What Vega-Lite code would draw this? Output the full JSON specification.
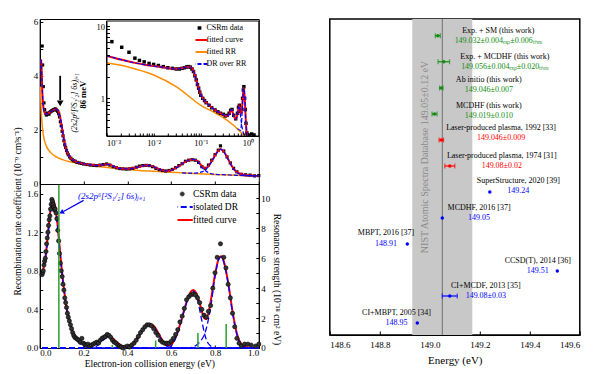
{
"$schema": "https://vega.github.io/schema/vega-lite/v6.json",
"padding": {"left": 11.8, "top": 17, "right": 0, "bottom": 0},
"bounds": "flush",
"spacing": 71,
"config": {
 "font": "Liberation Serif",
 "view": {"stroke": "black", "strokeWidth": 1},
 "axis": {"labelFont": "Liberation Serif", "titleFont": "Liberation Serif", "labelFontSize": 9, "titleFontSize": 9.5, "titleFontWeight": "normal", "labelColor": "black", "titleColor": "black", "domainColor": "black", "tickColor": "black", "grid": false, "tickSize": -3, "labelPadding": 5},
 "legend": {"labelFont": "Liberation Serif", "labelColor": "black"},
 "text": {"font": "Liberation Serif"}
},
"datasets": {
 "tpts": [{"x":0.011,"y":5.1},{"x":0.013,"y":4.4},{"x":0.016,"y":3.6},{"x":0.019,"y":3.0},{"x":0.022,"y":2.75},{"x":0.026,"y":2.62},{"x":0.03,"y":2.55},{"x":0.034,"y":2.6},{"x":0.038,"y":2.62},{"x":0.042,"y":2.58},{"x":0.046,"y":2.65},{"x":0.05,"y":2.68},{"x":0.054,"y":2.7},{"x":0.058,"y":2.72},{"x":0.062,"y":2.74},{"x":0.066,"y":2.75},{"x":0.07,"y":2.78},{"x":0.074,"y":2.76},{"x":0.078,"y":2.72},{"x":0.082,"y":2.68},{"x":0.086,"y":2.6},{"x":0.09,"y":2.48},{"x":0.094,"y":2.3},{"x":0.098,"y":2.15},{"x":0.102,"y":1.95},{"x":0.106,"y":1.78},{"x":0.11,"y":1.6},{"x":0.114,"y":1.45},{"x":0.118,"y":1.35},{"x":0.122,"y":1.24},{"x":0.126,"y":1.15},{"x":0.13,"y":1.08},{"x":0.136,"y":1.0},{"x":0.142,"y":0.95},{"x":0.148,"y":0.9},{"x":0.155,"y":0.86},{"x":0.162,"y":0.84},{"x":0.17,"y":0.8},{"x":0.18,"y":0.78},{"x":0.19,"y":0.76},{"x":0.2,"y":0.74},{"x":0.215,"y":0.72},{"x":0.23,"y":0.7},{"x":0.245,"y":0.69},{"x":0.26,"y":0.68},{"x":0.275,"y":0.7},{"x":0.29,"y":0.72},{"x":0.305,"y":0.74},{"x":0.32,"y":0.7},{"x":0.335,"y":0.64},{"x":0.35,"y":0.6},{"x":0.365,"y":0.57},{"x":0.38,"y":0.56},{"x":0.395,"y":0.55},{"x":0.41,"y":0.56},{"x":0.425,"y":0.58},{"x":0.44,"y":0.62},{"x":0.455,"y":0.66},{"x":0.47,"y":0.68},{"x":0.485,"y":0.69},{"x":0.5,"y":0.68},{"x":0.515,"y":0.64},{"x":0.53,"y":0.58},{"x":0.545,"y":0.53},{"x":0.56,"y":0.5},{"x":0.575,"y":0.48},{"x":0.59,"y":0.5},{"x":0.605,"y":0.54},{"x":0.62,"y":0.6},{"x":0.635,"y":0.68},{"x":0.65,"y":0.75},{"x":0.665,"y":0.84},{"x":0.68,"y":0.88},{"x":0.695,"y":0.9},{"x":0.71,"y":0.88},{"x":0.725,"y":0.8},{"x":0.74,"y":0.64},{"x":0.755,"y":0.58},{"x":0.77,"y":0.7},{"x":0.785,"y":0.88},{"x":0.8,"y":1.08},{"x":0.815,"y":1.25},{"x":0.825,"y":1.41},{"x":0.84,"y":1.22},{"x":0.855,"y":1.0},{"x":0.87,"y":0.78},{"x":0.885,"y":0.58},{"x":0.9,"y":0.45},{"x":0.92,"y":0.36},{"x":0.94,"y":0.34},{"x":0.96,"y":0.33},{"x":0.98,"y":0.3},{"x":1.0,"y":0.31}],
 "tfit": [{"x":0.006,"y":4.6},{"x":0.008,"y":4.3},{"x":0.01,"y":3.8},{"x":0.012,"y":3.35},{"x":0.015,"y":2.95},{"x":0.018,"y":2.75},{"x":0.022,"y":2.64},{"x":0.028,"y":2.58},{"x":0.035,"y":2.6},{"x":0.045,"y":2.64},{"x":0.055,"y":2.7},{"x":0.065,"y":2.75},{"x":0.075,"y":2.76},{"x":0.082,"y":2.73},{"x":0.088,"y":2.62},{"x":0.094,"y":2.42},{"x":0.1,"y":2.15},{"x":0.106,"y":1.85},{"x":0.112,"y":1.57},{"x":0.118,"y":1.36},{"x":0.124,"y":1.2},{"x":0.13,"y":1.09},{"x":0.14,"y":0.97},{"x":0.15,"y":0.9},{"x":0.165,"y":0.83},{"x":0.18,"y":0.78},{"x":0.2,"y":0.75},{"x":0.23,"y":0.71},{"x":0.26,"y":0.69},{"x":0.29,"y":0.71},{"x":0.31,"y":0.73},{"x":0.33,"y":0.68},{"x":0.35,"y":0.61},{"x":0.37,"y":0.57},{"x":0.4,"y":0.56},{"x":0.43,"y":0.59},{"x":0.46,"y":0.65},{"x":0.49,"y":0.69},{"x":0.51,"y":0.67},{"x":0.53,"y":0.6},{"x":0.56,"y":0.51},{"x":0.58,"y":0.48},{"x":0.6,"y":0.51},{"x":0.63,"y":0.63},{"x":0.66,"y":0.8},{"x":0.68,"y":0.88},{"x":0.7,"y":0.91},{"x":0.72,"y":0.86},{"x":0.74,"y":0.66},{"x":0.755,"y":0.58},{"x":0.77,"y":0.66},{"x":0.79,"y":0.92},{"x":0.81,"y":1.18},{"x":0.825,"y":1.29},{"x":0.84,"y":1.2},{"x":0.86,"y":0.92},{"x":0.88,"y":0.62},{"x":0.9,"y":0.44},{"x":0.92,"y":0.36},{"x":0.95,"y":0.32},{"x":1.0,"y":0.3}],
 "tdr": [{"c":"a","x":0.006,"y":4.6},{"c":"a","x":0.008,"y":4.3},{"c":"a","x":0.01,"y":3.8},{"c":"a","x":0.012,"y":3.35},{"c":"a","x":0.015,"y":2.95},{"c":"a","x":0.018,"y":2.75},{"c":"a","x":0.022,"y":2.64},{"c":"a","x":0.028,"y":2.58},{"c":"a","x":0.035,"y":2.6},{"c":"a","x":0.045,"y":2.64},{"c":"a","x":0.055,"y":2.7},{"c":"a","x":0.065,"y":2.75},{"c":"a","x":0.075,"y":2.76},{"c":"a","x":0.082,"y":2.73},{"c":"a","x":0.088,"y":2.62},{"c":"a","x":0.094,"y":2.42},{"c":"a","x":0.1,"y":2.15},{"c":"a","x":0.106,"y":1.85},{"c":"a","x":0.112,"y":1.57},{"c":"a","x":0.118,"y":1.36},{"c":"a","x":0.124,"y":1.2},{"c":"a","x":0.13,"y":1.09},{"c":"a","x":0.14,"y":0.97},{"c":"a","x":0.15,"y":0.9},{"c":"a","x":0.165,"y":0.83},{"c":"a","x":0.18,"y":0.78},{"c":"a","x":0.2,"y":0.75},{"c":"a","x":0.23,"y":0.71},{"c":"a","x":0.26,"y":0.69},{"c":"a","x":0.29,"y":0.71},{"c":"a","x":0.31,"y":0.73},{"c":"a","x":0.33,"y":0.68},{"c":"a","x":0.35,"y":0.61},{"c":"a","x":0.37,"y":0.57},{"c":"a","x":0.4,"y":0.56},{"c":"a","x":0.43,"y":0.59},{"c":"a","x":0.46,"y":0.65},{"c":"a","x":0.49,"y":0.69},{"c":"a","x":0.51,"y":0.67},{"c":"a","x":0.53,"y":0.6},{"c":"a","x":0.56,"y":0.51},{"c":"a","x":0.58,"y":0.48},{"c":"a","x":0.6,"y":0.51},{"c":"a","x":0.63,"y":0.63},{"c":"a","x":0.66,"y":0.8},{"c":"a","x":0.68,"y":0.88},{"c":"a","x":0.7,"y":0.91},{"c":"a","x":0.72,"y":0.84},{"c":"a","x":0.74,"y":0.62},{"c":"a","x":0.76,"y":0.47},{"c":"a","x":0.78,"y":0.39},{"c":"a","x":0.8,"y":0.36},{"c":"a","x":0.85,"y":0.34},{"c":"a","x":0.9,"y":0.32},{"c":"a","x":1.0,"y":0.29},
  {"c":"b","x":0.65,"y":0.41},{"c":"b","x":0.7,"y":0.4},{"c":"b","x":0.72,"y":0.41},{"c":"b","x":0.74,"y":0.45},{"c":"b","x":0.755,"y":0.52},{"c":"b","x":0.77,"y":0.64},{"c":"b","x":0.79,"y":0.9},{"c":"b","x":0.81,"y":1.17},{"c":"b","x":0.825,"y":1.28},{"c":"b","x":0.84,"y":1.19},{"c":"b","x":0.86,"y":0.91},{"c":"b","x":0.88,"y":0.61},{"c":"b","x":0.9,"y":0.43},{"c":"b","x":0.92,"y":0.35},{"c":"b","x":0.95,"y":0.32},{"c":"b","x":1.0,"y":0.3}],
 "trr": [{"x":0.003,"y":3.6},{"x":0.005,"y":3.05},{"x":0.008,"y":2.5},{"x":0.012,"y":2.08},{"x":0.02,"y":1.65},{"x":0.03,"y":1.4},{"x":0.05,"y":1.16},{"x":0.075,"y":1.0},{"x":0.1,"y":0.91},{"x":0.15,"y":0.8},{"x":0.2,"y":0.72},{"x":0.3,"y":0.62},{"x":0.4,"y":0.54},{"x":0.5,"y":0.48},{"x":0.6,"y":0.43},{"x":0.7,"y":0.39},{"x":0.8,"y":0.35},{"x":0.9,"y":0.32},{"x":1.0,"y":0.29}],
 "ipts": [{"x":0.0013,"y":6.1},{"x":0.0021,"y":5.1},{"x":0.003,"y":4.35},{"x":0.004,"y":3.6},{"x":0.005,"y":3.35},{"x":0.0063,"y":3.2},{"x":0.008,"y":3.05},{"x":0.01,"y":2.95},{"x":0.0126,"y":2.85},{"x":0.016,"y":2.75},{"x":0.02,"y":2.65},{"x":0.025,"y":2.6},{"x":0.03,"y":2.55},{"x":0.035,"y":2.55},{"x":0.04,"y":2.6},{"x":0.045,"y":2.65},{"x":0.05,"y":2.72},{"x":0.055,"y":2.75},{"x":0.06,"y":2.7},{"x":0.065,"y":2.55},{"x":0.07,"y":2.35},{"x":0.075,"y":2.05},{"x":0.08,"y":1.8},{"x":0.085,"y":1.55},{"x":0.09,"y":1.38},{"x":0.095,"y":1.22},{"x":0.1,"y":1.1},{"x":0.11,"y":1.0},{"x":0.12,"y":0.93},{"x":0.13,"y":0.87},{"x":0.15,"y":0.8},{"x":0.17,"y":0.74},{"x":0.2,"y":0.69},{"x":0.23,"y":0.65},{"x":0.26,"y":0.62},{"x":0.3,"y":0.6},{"x":0.33,"y":0.57},{"x":0.36,"y":0.58},{"x":0.4,"y":0.62},{"x":0.43,"y":0.68},{"x":0.46,"y":0.7},{"x":0.5,"y":0.58},{"x":0.55,"y":0.52},{"x":0.6,"y":0.62},{"x":0.63,"y":0.75},{"x":0.66,"y":0.8},{"x":0.7,"y":0.66},{"x":0.74,"y":0.7},{"x":0.77,"y":1.0},{"x":0.8,"y":1.3},{"x":0.82,"y":1.45},{"x":0.85,"y":1.0},{"x":0.88,"y":0.7},{"x":0.91,"y":0.45},{"x":0.95,"y":0.33},{"x":1.05,"y":0.31},{"x":1.2,"y":0.32},{"x":1.35,"y":0.31}],
 "ifit": [{"x":0.001,"y":3.9},{"x":0.002,"y":3.45},{"x":0.004,"y":3.1},{"x":0.007,"y":2.9},{"x":0.01,"y":2.8},{"x":0.015,"y":2.7},{"x":0.02,"y":2.62},{"x":0.03,"y":2.56},{"x":0.04,"y":2.62},{"x":0.05,"y":2.72},{"x":0.058,"y":2.74},{"x":0.065,"y":2.6},{"x":0.07,"y":2.4},{"x":0.075,"y":2.1},{"x":0.08,"y":1.8},{"x":0.09,"y":1.38},{"x":0.1,"y":1.12},{"x":0.12,"y":0.93},{"x":0.15,"y":0.8},{"x":0.2,"y":0.69},{"x":0.25,"y":0.63},{"x":0.3,"y":0.59},{"x":0.35,"y":0.57},{"x":0.4,"y":0.6},{"x":0.45,"y":0.7},{"x":0.5,"y":0.57},{"x":0.55,"y":0.51},{"x":0.6,"y":0.6},{"x":0.65,"y":0.8},{"x":0.7,"y":0.63},{"x":0.73,"y":0.62},{"x":0.78,"y":1.05},{"x":0.82,"y":1.4},{"x":0.86,"y":0.95},{"x":0.9,"y":0.5},{"x":0.93,"y":0.36},{"x":0.96,"y":0.3}],
 "irr": [{"x":0.001,"y":3.1},{"x":0.003,"y":2.7},{"x":0.01,"y":2.1},{"x":0.03,"y":1.45},{"x":0.1,"y":0.8},{"x":0.2,"y":0.63},{"x":0.3,"y":0.54},{"x":0.5,"y":0.42},{"x":0.7,"y":0.34},{"x":0.85,"y":0.3}],
 "idr": [{"c":"a","x":0.001,"y":3.9},{"c":"a","x":0.002,"y":3.45},{"c":"a","x":0.004,"y":3.1},{"c":"a","x":0.007,"y":2.9},{"c":"a","x":0.01,"y":2.8},{"c":"a","x":0.015,"y":2.7},{"c":"a","x":0.02,"y":2.62},{"c":"a","x":0.03,"y":2.56},{"c":"a","x":0.04,"y":2.62},{"c":"a","x":0.05,"y":2.72},{"c":"a","x":0.058,"y":2.74},{"c":"a","x":0.065,"y":2.6},{"c":"a","x":0.07,"y":2.4},{"c":"a","x":0.075,"y":2.1},{"c":"a","x":0.08,"y":1.8},{"c":"a","x":0.09,"y":1.38},{"c":"a","x":0.1,"y":1.12},{"c":"a","x":0.12,"y":0.93},{"c":"a","x":0.15,"y":0.8},{"c":"a","x":0.2,"y":0.69},{"c":"a","x":0.25,"y":0.63},{"c":"a","x":0.3,"y":0.59},{"c":"a","x":0.35,"y":0.57},{"c":"a","x":0.4,"y":0.6},{"c":"a","x":0.45,"y":0.7},{"c":"a","x":0.5,"y":0.57},{"c":"a","x":0.55,"y":0.51},{"c":"a","x":0.6,"y":0.6},{"c":"a","x":0.65,"y":0.8},{"c":"a","x":0.7,"y":0.55},{"c":"a","x":0.75,"y":0.4},{"c":"a","x":0.8,"y":0.33},{"c":"a","x":0.85,"y":0.3},
  {"c":"b","x":0.6,"y":0.38},{"c":"b","x":0.7,"y":0.36},{"c":"b","x":0.73,"y":0.45},{"c":"b","x":0.78,"y":1.0},{"c":"b","x":0.82,"y":1.38},{"c":"b","x":0.86,"y":0.93},{"c":"b","x":0.9,"y":0.48},{"c":"b","x":0.93,"y":0.34},{"c":"b","x":0.96,"y":0.3}],
 "bpts": [{"x":0.01,"y":0.76},{"x":0.013,"y":0.78},{"x":0.016,"y":0.8},{"x":0.019,"y":0.86},{"x":0.022,"y":0.9},{"x":0.025,"y":0.93},{"x":0.028,"y":1.0},{"x":0.031,"y":1.08},{"x":0.034,"y":1.14},{"x":0.037,"y":1.2},{"x":0.04,"y":1.27},{"x":0.043,"y":1.33},{"x":0.046,"y":1.37},{"x":0.049,"y":1.44},{"x":0.052,"y":1.49},{"x":0.055,"y":1.54},{"x":0.058,"y":1.52},{"x":0.061,"y":1.49},{"x":0.064,"y":1.46},{"x":0.067,"y":1.43},{"x":0.07,"y":1.44},{"x":0.074,"y":1.4},{"x":0.078,"y":1.34},{"x":0.082,"y":1.22},{"x":0.086,"y":1.11},{"x":0.09,"y":0.98},{"x":0.094,"y":0.88},{"x":0.098,"y":0.8},{"x":0.102,"y":0.74},{"x":0.106,"y":0.66},{"x":0.11,"y":0.6},{"x":0.114,"y":0.52},{"x":0.118,"y":0.47},{"x":0.122,"y":0.42},{"x":0.126,"y":0.36},{"x":0.13,"y":0.32},{"x":0.135,"y":0.28},{"x":0.14,"y":0.24},{"x":0.145,"y":0.2},{"x":0.15,"y":0.16},{"x":0.155,"y":0.13},{"x":0.16,"y":0.11},{"x":0.166,"y":0.1},{"x":0.172,"y":0.09},{"x":0.178,"y":0.08},{"x":0.185,"y":0.06},{"x":0.192,"y":0.1},{"x":0.198,"y":0.05},{"x":0.205,"y":0.04},{"x":0.212,"y":0.03},{"x":0.22,"y":0.04},{"x":0.228,"y":0.02},{"x":0.236,"y":0.03},{"x":0.244,"y":0.04},{"x":0.252,"y":0.05},{"x":0.26,"y":0.06},{"x":0.268,"y":0.05},{"x":0.276,"y":0.08},{"x":0.284,"y":0.1},{"x":0.292,"y":0.11},{"x":0.3,"y":0.12},{"x":0.308,"y":0.14},{"x":0.316,"y":0.13},{"x":0.324,"y":0.11},{"x":0.332,"y":0.08},{"x":0.34,"y":0.06},{"x":0.348,"y":0.05},{"x":0.356,"y":0.03},{"x":0.364,"y":0.02},{"x":0.372,"y":0.01},{"x":0.38,"y":0.0},{"x":0.39,"y":0.01},{"x":0.4,"y":0.02},{"x":0.41,"y":0.01},{"x":0.42,"y":0.03},{"x":0.43,"y":0.05},{"x":0.44,"y":0.08},{"x":0.45,"y":0.12},{"x":0.46,"y":0.16},{"x":0.47,"y":0.19},{"x":0.48,"y":0.22},{"x":0.49,"y":0.24},{"x":0.5,"y":0.24},{"x":0.51,"y":0.23},{"x":0.52,"y":0.2},{"x":0.53,"y":0.16},{"x":0.54,"y":0.13},{"x":0.55,"y":0.08},{"x":0.56,"y":0.06},{"x":0.57,"y":0.05},{"x":0.58,"y":0.05},{"x":0.59,"y":0.05},{"x":0.6,"y":0.07},{"x":0.61,"y":0.1},{"x":0.62,"y":0.14},{"x":0.63,"y":0.19},{"x":0.64,"y":0.27},{"x":0.65,"y":0.33},{"x":0.66,"y":0.41},{"x":0.67,"y":0.5},{"x":0.68,"y":0.53},{"x":0.69,"y":0.55},{"x":0.7,"y":0.56},{"x":0.71,"y":0.55},{"x":0.72,"y":0.52},{"x":0.73,"y":0.47},{"x":0.74,"y":0.4},{"x":0.75,"y":0.34},{"x":0.76,"y":0.32},{"x":0.77,"y":0.38},{"x":0.78,"y":0.44},{"x":0.79,"y":0.62},{"x":0.8,"y":0.78},{"x":0.81,"y":0.94},{"x":0.825,"y":1.08},{"x":0.84,"y":0.94},{"x":0.85,"y":0.83},{"x":0.86,"y":0.66},{"x":0.87,"y":0.52},{"x":0.88,"y":0.36},{"x":0.89,"y":0.22},{"x":0.9,"y":0.1},{"x":0.91,"y":0.05},{"x":0.92,"y":0.02},{"x":0.935,"y":0.04},{"x":0.95,"y":0.04},{"x":0.965,"y":0.03},{"x":0.985,"y":0.02},{"x":1.0,"y":0.04}],
 "bfit": [{"x":0.01,"y":0.78},{"x":0.02,"y":0.86},{"x":0.03,"y":1.02},{"x":0.04,"y":1.25},{"x":0.05,"y":1.45},{"x":0.06,"y":1.53},{"x":0.07,"y":1.47},{"x":0.08,"y":1.3},{"x":0.09,"y":1.06},{"x":0.1,"y":0.82},{"x":0.11,"y":0.62},{"x":0.12,"y":0.45},{"x":0.13,"y":0.33},{"x":0.14,"y":0.24},{"x":0.15,"y":0.17},{"x":0.16,"y":0.12},{"x":0.17,"y":0.09},{"x":0.18,"y":0.065},{"x":0.2,"y":0.04},{"x":0.22,"y":0.03},{"x":0.24,"y":0.035},{"x":0.26,"y":0.05},{"x":0.28,"y":0.08},{"x":0.3,"y":0.115},{"x":0.31,"y":0.125},{"x":0.32,"y":0.12},{"x":0.34,"y":0.085},{"x":0.36,"y":0.045},{"x":0.38,"y":0.02},{"x":0.4,"y":0.02},{"x":0.42,"y":0.04},{"x":0.44,"y":0.09},{"x":0.46,"y":0.16},{"x":0.48,"y":0.22},{"x":0.5,"y":0.25},{"x":0.52,"y":0.23},{"x":0.54,"y":0.16},{"x":0.56,"y":0.08},{"x":0.58,"y":0.025},{"x":0.6,"y":0.035},{"x":0.62,"y":0.11},{"x":0.64,"y":0.24},{"x":0.66,"y":0.4},{"x":0.68,"y":0.54},{"x":0.7,"y":0.6},{"x":0.72,"y":0.54},{"x":0.74,"y":0.38},{"x":0.75,"y":0.31},{"x":0.76,"y":0.3},{"x":0.77,"y":0.36},{"x":0.78,"y":0.48},{"x":0.8,"y":0.76},{"x":0.82,"y":0.94},{"x":0.83,"y":0.95},{"x":0.84,"y":0.9},{"x":0.86,"y":0.68},{"x":0.88,"y":0.38},{"x":0.9,"y":0.15},{"x":0.92,"y":0.04},{"x":0.94,"y":0.01},{"x":0.97,"y":0.0},{"x":1.0,"y":0.0}],
 "bdr": [{"c":"1","x":0.01,"y":0.76},{"c":"1","x":0.02,"y":0.85},{"c":"1","x":0.03,"y":1.0},{"c":"1","x":0.04,"y":1.23},{"c":"1","x":0.05,"y":1.44},{"c":"1","x":0.06,"y":1.52},{"c":"1","x":0.07,"y":1.46},{"c":"1","x":0.08,"y":1.29},{"c":"1","x":0.09,"y":1.05},{"c":"1","x":0.1,"y":0.81},{"c":"1","x":0.11,"y":0.61},{"c":"1","x":0.12,"y":0.44},{"c":"1","x":0.13,"y":0.32},{"c":"1","x":0.14,"y":0.23},{"c":"1","x":0.15,"y":0.16},{"c":"1","x":0.16,"y":0.11},{"c":"1","x":0.17,"y":0.08},{"c":"1","x":0.18,"y":0.05},{"c":"1","x":0.2,"y":0.02},{"c":"1","x":0.22,"y":0.005},{"c":"1","x":0.25,"y":0},{"c":"1","x":1.0,"y":0},
  {"c":"2","x":0.01,"y":0},{"c":"2","x":0.24,"y":0},{"c":"2","x":0.26,"y":0.02},{"c":"2","x":0.28,"y":0.06},{"c":"2","x":0.3,"y":0.1},{"c":"2","x":0.31,"y":0.11},{"c":"2","x":0.32,"y":0.105},{"c":"2","x":0.34,"y":0.07},{"c":"2","x":0.36,"y":0.03},{"c":"2","x":0.38,"y":0.005},{"c":"2","x":0.4,"y":0},{"c":"2","x":1.0,"y":0},
  {"c":"3","x":0.01,"y":0},{"c":"3","x":0.4,"y":0},{"c":"3","x":0.42,"y":0.02},{"c":"3","x":0.44,"y":0.07},{"c":"3","x":0.46,"y":0.14},{"c":"3","x":0.48,"y":0.21},{"c":"3","x":0.5,"y":0.245},{"c":"3","x":0.52,"y":0.22},{"c":"3","x":0.54,"y":0.15},{"c":"3","x":0.56,"y":0.07},{"c":"3","x":0.58,"y":0.02},{"c":"3","x":0.6,"y":0},{"c":"3","x":1.0,"y":0},
  {"c":"4","x":0.01,"y":0},{"c":"4","x":0.58,"y":0},{"c":"4","x":0.6,"y":0.02},{"c":"4","x":0.62,"y":0.1},{"c":"4","x":0.64,"y":0.23},{"c":"4","x":0.66,"y":0.39},{"c":"4","x":0.68,"y":0.53},{"c":"4","x":0.7,"y":0.59},{"c":"4","x":0.72,"y":0.5},{"c":"4","x":0.74,"y":0.28},{"c":"4","x":0.75,"y":0.17},{"c":"4","x":0.76,"y":0.09},{"c":"4","x":0.78,"y":0.02},{"c":"4","x":0.8,"y":0},{"c":"4","x":1.0,"y":0},
  {"c":"5","x":0.01,"y":0},{"c":"5","x":0.68,"y":0},{"c":"5","x":0.7,"y":0.01},{"c":"5","x":0.72,"y":0.04},{"c":"5","x":0.74,"y":0.09},{"c":"5","x":0.75,"y":0.13},{"c":"5","x":0.76,"y":0.2},{"c":"5","x":0.78,"y":0.42},{"c":"5","x":0.8,"y":0.74},{"c":"5","x":0.82,"y":0.93},{"c":"5","x":0.83,"y":0.945},{"c":"5","x":0.84,"y":0.89},{"c":"5","x":0.86,"y":0.67},{"c":"5","x":0.88,"y":0.37},{"c":"5","x":0.9,"y":0.14},{"c":"5","x":0.92,"y":0.03},{"c":"5","x":0.94,"y":0.005},{"c":"5","x":0.96,"y":0},{"c":"5","x":1.0,"y":0}],
 "bres": [{"x":0.087,"v":10.9},{"x":0.331,"v":0.2},{"x":0.529,"v":0.5},{"x":0.722,"v":1.0},{"x":0.851,"v":1.6}],
 "forest": [
  {"v":149.032,"lo":149.022,"hi":149.042,"r":0.49,"ly":0.31,"vy":0.69,"lx":149.274,"lab":"Exp. + SM (this work)","val":"149.032±0.004ₑₓₚ±0.006ₜₕₑₒ","g":"g"},
  {"v":149.056,"lo":149.033,"hi":149.079,"r":1.49,"ly":1.3,"vy":1.69,"lx":149.3,"lab":"Exp. + MCDHF (this work)","val":"149.056±0.004ₑₓₚ±0.020ₜₕₑₒ","g":"g"},
  {"v":149.046,"lo":149.039,"hi":149.053,"r":2.5,"ly":2.19,"vy":2.58,"lx":149.236,"lab":"Ab initio (this work)","val":"149.046±0.007","g":"g"},
  {"v":149.019,"lo":149.009,"hi":149.029,"r":3.5,"ly":3.19,"vy":3.58,"lx":149.236,"lab":"MCDHF (this work)","val":"149.019±0.010","g":"g"},
  {"v":149.046,"lo":149.037,"hi":149.055,"r":4.5,"ly":4.04,"vy":4.42,"lx":149.285,"lab":"Laser-produced plasma, 1992 [33]","val":"149.046±0.009","g":"r"},
  {"v":149.08,"lo":149.06,"hi":149.1,"r":5.5,"ly":5.12,"vy":5.5,"lx":149.288,"lab":"Laser-produced plasma, 1974 [31]","val":"149.08±0.02","g":"r"},
  {"v":149.24,"lo":null,"hi":null,"r":6.5,"ly":6.08,"vy":6.46,"lx":149.354,"lab":"SuperStructure, 2020 [39]","val":"149.24","g":"b"},
  {"v":149.05,"lo":null,"hi":null,"r":7.5,"ly":7.12,"vy":7.5,"lx":149.197,"lab":"MCDHF, 2016 [37]","val":"149.05","g":"b"},
  {"v":148.91,"lo":null,"hi":null,"r":8.5,"ly":8.08,"vy":8.5,"lx":148.825,"lab":"MBPT, 2016 [37]","val":"148.91","g":"b"},
  {"v":149.51,"lo":null,"hi":null,"r":9.54,"ly":9.15,"vy":9.54,"lx":149.432,"lab":"CCSD(T), 2014 [36]","val":"149.51","g":"b"},
  {"v":149.08,"lo":149.05,"hi":149.11,"r":10.5,"ly":10.12,"vy":10.5,"lx":149.224,"lab":"CI+MCDF, 2013 [35]","val":"149.08±0.03","g":"b"},
  {"v":148.95,"lo":null,"hi":null,"r":11.54,"ly":11.15,"vy":11.54,"lx":148.867,"lab":"CI+MBPT, 2005 [34]","val":"148.95","g":"b"}
 ]
},
"hconcat": [
 {
  "width": 219, "height": 329,
  "layer": [
   {
    "layer": [
     {"layer": [
      {"data": {"name": "trr"}, "mark": {"type": "line", "strokeWidth": 1.5, "interpolate": "monotone"},
       "encoding": {
        "x": {"field": "x", "type": "quantitative", "scale": {"domain": [0, 1], "nice": false, "zero": false}, "axis": {"title": null, "labels": false, "orient": "bottom", "offset": -164, "values": [0,0.1,0.2,0.3,0.4,0.5,0.6,0.7,0.8,0.9,1]}},
        "y": {"field": "y", "type": "quantitative", "scale": {"domain": [0, 6.1], "range": [165, 0], "nice": false}, "axis": {"title": null, "orient": "left", "values": [0,1,2,3,4,5,6], "labelExpr": "datum.value % 2 == 0 ? format(datum.value, 'd') : ''"}},
        "color": {"datum": "fitted RR", "type": "nominal",
         "scale": {"domain": ["CSRm data", "fitted curve", "fitted RR", "DR over RR"], "range": ["black", "#ff0000", "#ff8c00", "#0000ff"]},
         "legend": {"title": null, "orient": "none", "legendX": 155.7, "legendY": 4.25, "clipHeight": 9.5, "symbolSize": 256, "labelFontSize": 8, "labelOffset": 3, "padding": 0,
          "encode": {"symbols": {"update": {
           "shape": {"signal": "datum.value == 'CSRm data' ? 'square' : 'stroke'"},
           "size": {"signal": "datum.value == 'CSRm data' ? 14 : 256"},
           "fill": {"signal": "datum.value == 'CSRm data' ? 'black' : 'transparent'"},
           "stroke": {"signal": "datum.value == 'fitted curve' ? '#ff0000' : datum.value == 'fitted RR' ? '#ff8c00' : datum.value == 'DR over RR' ? '#0000ff' : 'black'"},
           "strokeWidth": {"signal": "datum.value == 'CSRm data' ? 0 : 2"},
           "strokeDash": {"signal": "datum.value == 'DR over RR' ? [4, 2] : [1, 0]"},
           "opacity": {"value": 1}}}}}}
       }},
      {"data": {"name": "tpts"}, "mark": {"type": "point", "shape": "square", "filled": true, "size": 10, "opacity": 1},
       "encoding": {"x": {"field": "x", "type": "quantitative"}, "y": {"field": "y", "type": "quantitative"}, "color": {"datum": "CSRm data", "type": "nominal"}}},
      {"data": {"name": "tfit"}, "mark": {"type": "line", "strokeWidth": 2, "interpolate": "monotone"},
       "encoding": {"x": {"field": "x", "type": "quantitative"}, "y": {"field": "y", "type": "quantitative"}, "color": {"datum": "fitted curve", "type": "nominal"}}},
      {"data": {"name": "tdr"}, "mark": {"type": "line", "strokeWidth": 1.2, "strokeDash": [4, 2], "interpolate": "monotone"},
       "encoding": {"x": {"field": "x", "type": "quantitative"}, "y": {"field": "y", "type": "quantitative"}, "detail": {"field": "c"}, "color": {"datum": "DR over RR", "type": "nominal"}}},
      {"data": {"values": [{}]}, "mark": {"type": "rule", "color": "black", "strokeWidth": 1.8},
       "encoding": {"x": {"datum": 0.093, "type": "quantitative"}, "y": {"datum": 4.0, "type": "quantitative"}, "y2": {"datum": 3.1}}},
      {"data": {"values": [{}]}, "mark": {"type": "point", "shape": "triangle-down", "filled": true, "color": "black", "size": 45, "opacity": 1},
       "encoding": {"x": {"datum": 0.093, "type": "quantitative"}, "y": {"datum": 2.98, "type": "quantitative"}}},
      {"data": {"values": [{}]}, "mark": {"type": "text", "angle": 270, "fontSize": 8, "fontStyle": "italic", "color": "black", "align": "center", "baseline": "middle"},
       "encoding": {"x": {"datum": 0.161, "type": "quantitative"}, "y": {"datum": 3.0, "type": "quantitative"}, "text": {"value": "(2s2p⁶[²S₁/₂] 6s)ⱼ₌₁"}}},
      {"data": {"values": [{}]}, "mark": {"type": "text", "angle": 270, "fontSize": 8.5, "fontWeight": "bold", "color": "black", "align": "center", "baseline": "middle"},
       "encoding": {"x": {"datum": 0.198, "type": "quantitative"}, "y": {"datum": 3.3, "type": "quantitative"}, "text": {"value": "86 meV"}}}
     ]},
     {"layer": [
      {"data": {"values": [{}]}, "mark": {"type": "rect", "fill": "white", "stroke": "black", "strokeWidth": 1},
       "encoding": {
        "x": {"datum": 0.001, "type": "quantitative", "scale": {"type": "log", "domain": [0.001, 1.7], "range": [66.7, 219], "nice": false}, "axis": {"orient": "bottom", "offset": -212, "title": null, "zindex": 1, "labelFontSize": 8.5, "values": [0.001,0.002,0.003,0.004,0.005,0.006,0.007,0.008,0.009,0.01,0.02,0.03,0.04,0.05,0.06,0.07,0.08,0.09,0.1,0.2,0.3,0.4,0.5,0.6,0.7,0.8,0.9,1], "labelExpr": "datum.value == 0.001 ? '10⁻³' : datum.value == 0.01 ? '10⁻²' : datum.value == 0.1 ? '10⁻¹' : datum.value == 1 ? '10⁰' : ''"}},
        "x2": {"datum": 1.7},
        "y": {"datum": 0.3, "type": "quantitative", "scale": {"type": "log", "domain": [0.3, 11.8], "range": [117, 2], "nice": false}, "axis": {"orient": "left", "offset": -66.7, "title": null, "zindex": 1, "labelFontSize": 8.5, "values": [0.3,0.4,0.5,0.6,0.7,0.8,0.9,1,2,3,4,5,6,7,8,9,10], "labelExpr": "datum.value == 1 ? '1' : datum.value == 10 ? '10' : ''"}},
        "y2": {"datum": 11.8}
       }},
      {"data": {"name": "irr"}, "mark": {"type": "line", "strokeWidth": 1.5, "interpolate": "monotone"},
       "encoding": {"x": {"field": "x", "type": "quantitative"}, "y": {"field": "y", "type": "quantitative"}, "color": {"datum": "fitted RR", "type": "nominal"}}},
      {"data": {"name": "ipts"}, "mark": {"type": "point", "shape": "square", "filled": true, "size": 12, "opacity": 1},
       "encoding": {"x": {"field": "x", "type": "quantitative"}, "y": {"field": "y", "type": "quantitative"}, "color": {"datum": "CSRm data", "type": "nominal"}}},
      {"data": {"name": "ifit"}, "mark": {"type": "line", "strokeWidth": 2, "interpolate": "monotone"},
       "encoding": {"x": {"field": "x", "type": "quantitative"}, "y": {"field": "y", "type": "quantitative"}, "color": {"datum": "fitted curve", "type": "nominal"}}},
      {"data": {"name": "idr"}, "mark": {"type": "line", "strokeWidth": 1.2, "strokeDash": [4, 2], "interpolate": "monotone"},
       "encoding": {"x": {"field": "x", "type": "quantitative"}, "y": {"field": "y", "type": "quantitative"}, "detail": {"field": "c"}, "color": {"datum": "DR over RR", "type": "nominal"}}}
     ]}
    ],
    "resolve": {"scale": {"x": "independent", "y": "independent"}, "axis": {"x": "independent", "y": "independent"}}
   },
   {
    "layer": [
     {"layer": [
      {"data": {"name": "bfit"}, "mark": {"type": "line", "strokeWidth": 2, "interpolate": "monotone"},
       "encoding": {
        "x": {"field": "x", "type": "quantitative", "scale": {"domain": [0, 1], "nice": false, "zero": false}, "axis": {"orient": "bottom", "title": "Electron-ion collision energy (eV)", "titlePadding": 1, "labelPadding": 4, "values": [0,0.1,0.2,0.3,0.4,0.5,0.6,0.7,0.8,0.9,1], "labelExpr": "round(datum.value*10) % 2 == 0 ? format(datum.value, '.1f') : ''"}},
        "y": {"field": "y", "type": "quantitative", "scale": {"domain": [0, 1.7], "range": [329, 165], "nice": false}, "axis": {"orient": "left", "title": "Recombination rate coefficient (10⁻⁹ cm³s⁻¹)", "titleX": -17, "titleY": 192, "values": [0,0.2,0.4,0.6,0.8,1.0,1.2,1.4,1.6], "labelExpr": "round(datum.value*10) % 4 == 0 ? format(datum.value, '.1f') : ''"}},
        "color": {"datum": "fitted curve", "type": "nominal",
         "scale": {"domain": ["CSRm data", "isolated DR", "fitted curve"], "range": ["#333333", "#0000ff", "#ff0000"]},
         "legend": {"title": null, "orient": "none", "legendX": 137.7, "legendY": 169.5, "clipHeight": 11, "symbolSize": 441, "labelFontSize": 9.5, "labelOffset": 6, "padding": 0,
          "encode": {"symbols": {"update": {
           "shape": {"signal": "datum.value == 'CSRm data' ? 'circle' : 'stroke'"},
           "size": {"signal": "datum.value == 'CSRm data' ? 18 : 441"},
           "fill": {"signal": "datum.value == 'CSRm data' ? '#444444' : 'transparent'"},
           "stroke": {"signal": "datum.value == 'fitted curve' ? '#ff0000' : datum.value == 'isolated DR' ? '#0000ff' : 'black'"},
           "strokeWidth": {"signal": "datum.value == 'CSRm data' ? 0.6 : 2"},
           "strokeDash": {"signal": "datum.value == 'isolated DR' ? [6, 3] : [1, 0]"},
           "opacity": {"value": 1}}}}}}
       }},
      {"data": {"name": "bdr"}, "mark": {"type": "line", "strokeWidth": 1.3, "strokeDash": [6, 3], "interpolate": "monotone"},
       "encoding": {"x": {"field": "x", "type": "quantitative"}, "y": {"field": "y", "type": "quantitative"}, "detail": {"field": "c"}, "color": {"datum": "isolated DR", "type": "nominal"}}},
      {"data": {"name": "bpts"}, "mark": {"type": "point", "shape": "circle", "filled": true, "size": 18, "stroke": "black", "strokeWidth": 0.6, "opacity": 1},
       "encoding": {"x": {"field": "x", "type": "quantitative"}, "y": {"field": "y", "type": "quantitative"}, "color": {"datum": "CSRm data", "type": "nominal"}}},
      {"data": {"values": [{}]}, "mark": {"type": "rule", "color": "#0000ff", "strokeWidth": 1.2},
       "encoding": {"x": {"datum": 0.2, "type": "quantitative"}, "x2": {"datum": 0.108}, "y": {"datum": 1.53, "type": "quantitative"}, "y2": {"datum": 1.415}}},
      {"data": {"values": [{}]}, "mark": {"type": "point", "shape": "triangle-left", "angle": -29, "filled": true, "color": "#0000ff", "size": 30, "opacity": 1},
       "encoding": {"x": {"datum": 0.099, "type": "quantitative"}, "y": {"datum": 1.405, "type": "quantitative"}}},
      {"data": {"values": [{}]}, "mark": {"type": "text", "fontSize": 9, "fontStyle": "italic", "color": "#0000ff", "align": "center", "baseline": "middle"},
       "encoding": {"x": {"datum": 0.328, "type": "quantitative"}, "y": {"datum": 1.575, "type": "quantitative"}, "text": {"value": "(2s2p⁶[²S₁/₂] 6s)ⱼ₌₁"}}}
     ]},
     {"data": {"name": "bres"}, "mark": {"type": "rule", "color": "#2e9e2e", "strokeWidth": 1.5},
      "encoding": {
       "x": {"field": "x", "type": "quantitative"},
       "y": {"field": "v", "type": "quantitative", "scale": {"domain": [0, 10.96], "range": [329, 165], "nice": false}, "axis": {"orient": "right", "title": "Resonance strength (10⁻¹⁸ cm² eV)", "titleX": 13, "titleY": 260, "values": [0,1,2,3,4,5,6,7,8,9,10], "labelExpr": "datum.value % 2 == 0 ? datum.label : ''"}},
       "y2": {"datum": 0}
      }}
    ],
    "resolve": {"scale": {"y": "independent"}}
   }
  ],
  "resolve": {"scale": {"x": "independent", "y": "independent", "color": "independent"}, "axis": {"x": "independent", "y": "independent"}, "legend": {"color": "independent"}}
 },
 {
  "width": 250, "height": 316,
  "view": {"stroke": "black", "strokeWidth": 1.5},
  "layer": [
   {"data": {"values": [{}]}, "mark": {"type": "rect", "color": "#c8c8c8"},
    "encoding": {"x": {"datum": 148.93, "type": "quantitative", "scale": {"domain": [148.6, 149.6], "nice": false, "zero": false},
      "axis": {"orient": "bottom", "title": "Energy (eV)", "titleFontSize": 11, "titlePadding": 5, "tickSize": -4, "labelPadding": 9.5, "values": [148.6,148.7,148.8,148.9,149.0,149.1,149.2,149.3,149.4,149.5,149.6], "labelExpr": "round(datum.value*10) % 2 == 0 ? format(datum.value, '.1f') : ''"}},
     "x2": {"datum": 149.17}}},
   {"data": {"values": [{}]}, "mark": {"type": "rule", "color": "#6e6e6e", "strokeWidth": 1},
    "encoding": {"x": {"datum": 149.05, "type": "quantitative"}}},
   {"data": {"values": [{}]}, "mark": {"type": "text", "angle": 270, "fontSize": 10, "color": "#8a8a8a", "align": "center", "baseline": "middle"},
    "encoding": {"x": {"datum": 148.979, "type": "quantitative"}, "y": {"datum": 5.15, "type": "quantitative", "scale": {"domain": [-0.154, 12], "reverse": true, "nice": false, "zero": false}, "axis": null}, "text": {"value": "NIST Atomic Spectra Database  149.05±0.12 eV"}}},
   {"data": {"name": "forest"}, "transform": [{"filter": "isValid(datum.lo)"}], "mark": {"type": "rule", "strokeWidth": 1.2},
    "encoding": {"x": {"field": "lo", "type": "quantitative"}, "x2": {"field": "hi"}, "y": {"field": "r", "type": "quantitative", "axis": null},
     "color": {"field": "g", "type": "nominal", "scale": {"domain": ["g", "r", "b"], "range": ["#128c12", "#ff0000", "#0000ff"]}, "legend": null}}},
   {"data": {"name": "forest"}, "transform": [{"filter": "isValid(datum.lo)"}], "mark": {"type": "tick", "orient": "vertical", "size": 5, "thickness": 1.2},
    "encoding": {"x": {"field": "lo", "type": "quantitative"}, "y": {"field": "r", "type": "quantitative", "axis": null}, "color": {"field": "g", "type": "nominal", "legend": null}}},
   {"data": {"name": "forest"}, "transform": [{"filter": "isValid(datum.lo)"}], "mark": {"type": "tick", "orient": "vertical", "size": 5, "thickness": 1.2},
    "encoding": {"x": {"field": "hi", "type": "quantitative"}, "y": {"field": "r", "type": "quantitative", "axis": null}, "color": {"field": "g", "type": "nominal", "legend": null}}},
   {"data": {"name": "forest"}, "mark": {"type": "point", "shape": "circle", "filled": true, "size": 12, "opacity": 1},
    "encoding": {"x": {"field": "v", "type": "quantitative"}, "y": {"field": "r", "type": "quantitative", "axis": null}, "color": {"field": "g", "type": "nominal", "legend": null}}},
   {"data": {"name": "forest"}, "mark": {"type": "text", "fontSize": 8, "color": "black", "align": "center", "baseline": "middle"},
    "encoding": {"x": {"field": "lx", "type": "quantitative"}, "y": {"field": "ly", "type": "quantitative", "axis": null}, "text": {"field": "lab"}}},
   {"data": {"name": "forest"}, "mark": {"type": "text", "fontSize": 8, "align": "center", "baseline": "middle"},
    "encoding": {"x": {"field": "lx", "type": "quantitative"}, "y": {"field": "vy", "type": "quantitative", "axis": null}, "text": {"field": "val"}, "color": {"field": "g", "type": "nominal", "legend": null}}}
  ]
 }
],
"resolve": {"scale": {"color": "independent"}, "legend": {"color": "independent"}}
}
